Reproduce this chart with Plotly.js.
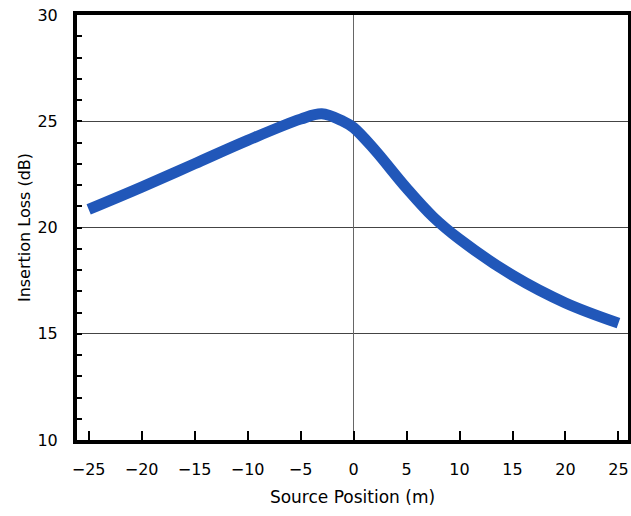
<!DOCTYPE html>
<html>
<head>
<meta charset="utf-8">
<script src="https://cdn.plot.ly/plotly-3.0.1.min.js"></script>
<style>
  html, body { margin: 0; padding: 0; background: #fff; }
  #chart { width: 631px; height: 516px; }
</style>
</head>
<body>
<div id="chart"></div>
<script>
// Source position along the barrier (m)
const sourcePosition = [-25, -20, -15, -10, -5, -3, -1, 0, 2, 5, 7.5, 10, 15, 20, 25];
// Measured insertion loss (dB)
const insertionLoss = [20.85, 21.9, 23.0, 24.1, 25.1, 25.35, 25.0, 24.7, 23.65, 21.85, 20.5, 19.45, 17.75, 16.45, 15.5];

const xTickVals = [-25, -20, -15, -10, -5, 0, 5, 10, 15, 20, 25];
const xTickText = ['\u221225', '\u221220', '\u221215', '\u221210', '\u22125', '0', '5', '10', '15', '20', '25'];
const yTickVals = [10, 15, 20, 25, 30];

const font = "'DejaVu Sans', 'Noto Sans', sans-serif";

const trace = {
  x: sourcePosition,
  y: insertionLoss,
  mode: 'lines',
  type: 'scatter',
  line: { color: '#2157b9', width: 11, shape: 'spline', smoothing: 1 },
  hoverinfo: 'skip'
};

const layout = {
  width: 631,
  height: 516,
  margin: { l: 77, r: 3, t: 15, b: 76 },
  paper_bgcolor: '#fff',
  plot_bgcolor: '#fff',
  showlegend: false,
  font: { family: font, color: '#000' },
  xaxis: {
    range: [-26.1, 25.9],
    tickvals: xTickVals,
    ticktext: xTickText,
    ticks: 'inside',
    ticklen: 9,
    tickwidth: 2,
    tickcolor: '#000',
    ticklabelstandoff: 12,
    tickfont: { size: 16, family: font },
    showgrid: false,
    zeroline: true,
    zerolinecolor: '#666',
    zerolinewidth: 1,
    showline: true,
    linecolor: '#000',
    linewidth: 4,
    mirror: true,
    title: { text: 'Source Position (m)', font: { size: 17, family: font }, standoff: 14 }
  },
  yaxis: {
    range: [10, 30],
    tickvals: yTickVals,
    ticks: 'inside',
    ticklen: 5,
    tickwidth: 2,
    tickcolor: '#000',
    ticklabelstandoff: 12,
    tickfont: { size: 16, family: font },
    minor: { dtick: 1, ticks: 'inside', ticklen: 5, tickwidth: 2, tickcolor: '#000', showgrid: false },
    showgrid: true,
    gridcolor: '#444',
    gridwidth: 1,
    zeroline: false,
    showline: true,
    linecolor: '#000',
    linewidth: 4,
    mirror: true,
    title: { text: 'Insertion Loss (dB)', font: { size: 16, family: font }, standoff: 4 }
  }
};

Plotly.newPlot('chart', [trace], layout, { displayModeBar: false, staticPlot: true });
</script>
</body>
</html>
